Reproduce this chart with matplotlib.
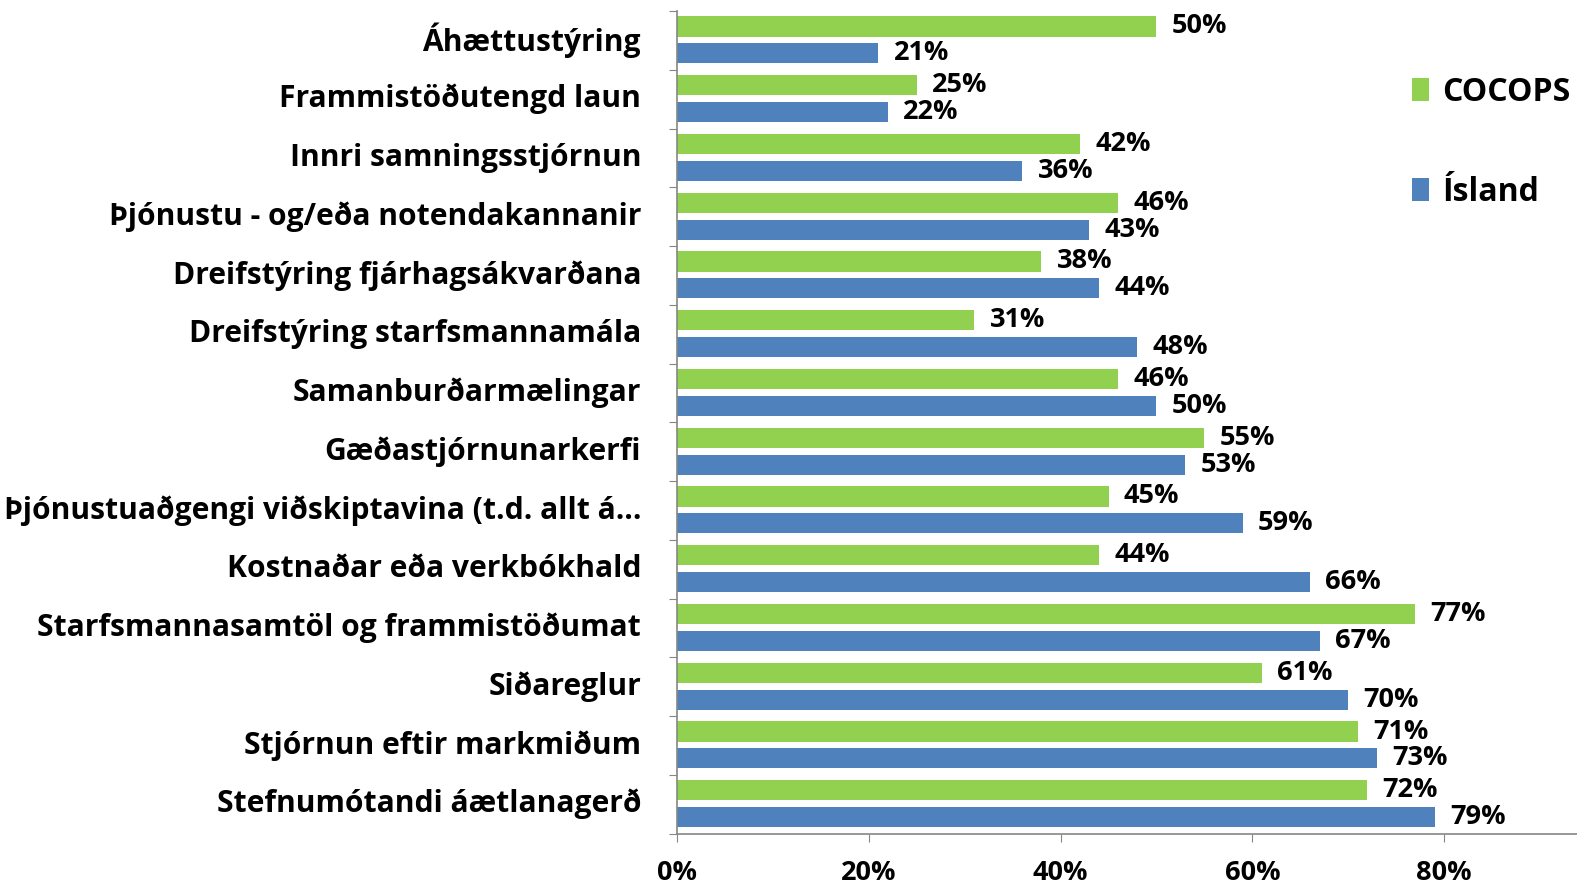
import matplotlib.pyplot as plt
from matplotlib.ticker import PercentFormatter

CATEGORIES = [
    "Áhættustýring",
    "Frammistöðutengd laun",
    "Innri samningsstjórnun",
    "Þjónustu - og/eða notendakannanir",
    "Dreifstýring fjárhagsákvarðana",
    "Dreifstýring starfsmannamála",
    "Samanburðarmælingar",
    "Gæðastjórnunarkerfi",
    "Þjónustuaðgengi viðskiptavina (t.d. allt á…",
    "Kostnaðar eða verkbókhald",
    "Starfsmannasamtöl og frammistöðumat",
    "Siðareglur",
    "Stjórnun eftir markmiðum",
    "Stefnumótandi áætlanagerð",
]
COCOPS = [50, 25, 42, 46, 38, 31, 46, 55, 45, 44, 77, 61, 71, 72]
ISLAND = [21, 22, 36, 43, 44, 48, 50, 53, 59, 66, 67, 70, 73, 79]
X_TICKS = [0, 20, 40, 60, 80]

GREEN = "#92d050"
BLUE = "#4f81bd"
AXIS_GREY = "#868686"
FONT = "Open Sans"

plt.rcParams["font.family"] = [FONT, "DejaVu Sans"]

fig = plt.figure(figsize=(15.77, 8.83), dpi=100)
ax = fig.add_axes([0.4293, 0.056, 0.5707, 0.9315])

n = len(CATEGORIES)
bar_h = 0.343
green_pos = [i + 0.263 for i in range(n)]
blue_pos = [i + 0.72 for i in range(n)]

ax.barh(green_pos, [v / 100 for v in COCOPS], height=bar_h, color=GREEN, label="COCOPS")
ax.barh(blue_pos, [v / 100 for v in ISLAND], height=bar_h, color=BLUE, label="Ísland")

for pos, vals in ((green_pos, COCOPS), (blue_pos, ISLAND)):
    for y, v in zip(pos, vals):
        ax.annotate(f"{v}%", (v / 100, y), xytext=(11, 0), textcoords="offset points",
                    va="center", ha="left", fontsize=19.5, fontweight="bold")

ax.set_ylim(n, 0)
ax.set_xlim(0, 0.9385)
ax.set_yticks(range(n + 1))
ax.set_yticklabels([])
for i, name in enumerate(CATEGORIES):
    ax.text(-0.04, i + 0.5, name, transform=ax.get_yaxis_transform(),
            ha="right", va="center", fontsize=21.6, fontweight="bold")

ax.set_xticks([t / 100 for t in X_TICKS])
ax.xaxis.set_major_formatter(PercentFormatter(xmax=1.0, decimals=0))
for lab in ax.get_xticklabels():
    lab.set_fontweight("bold")
ax.tick_params(axis="x", length=6, color=AXIS_GREY, labelsize=19.5, pad=13)
ax.tick_params(axis="y", length=6, color=AXIS_GREY)

ax.spines["top"].set_visible(False)
ax.spines["right"].set_visible(False)
ax.spines["left"].set_color(AXIS_GREY)
ax.spines["bottom"].set_color(AXIS_GREY)
ax.spines["left"].set_linewidth(1.2)
ax.spines["bottom"].set_linewidth(1.2)

fig.legend(loc="upper left", bbox_to_anchor=(0.877, 0.947), frameon=False,
           prop={"family": FONT, "weight": "bold", "size": 23},
           handlelength=0.55, handleheight=0.7, handletextpad=0.4, labelspacing=2.1)

fig.savefig("out.png", dpi=100)
